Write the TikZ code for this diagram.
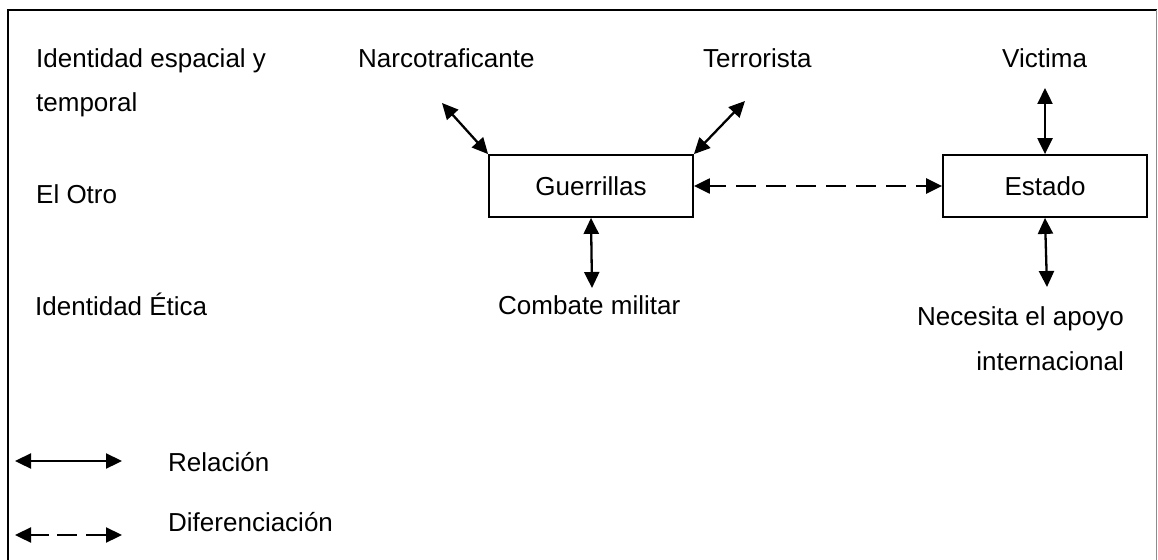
\documentclass[tikz,border=0pt]{standalone}
\usepackage{fontspec}
\setmainfont{Liberation Sans}
\usetikzlibrary{arrows.meta}

\tikzset{
  lbl/.style={inner sep=0pt, anchor=base west, font=\fontsize{26}{31}\selectfont},
  lblr/.style={lbl, anchor=base east},
  actor/.style={draw, line width=1.8pt, minimum width=204pt, minimum height=62pt,
                inner sep=0pt, font=\fontsize{26}{31}\selectfont},
  rel/.style={line width=2.3pt, {Triangle[length=16pt,width=15pt]}-{Triangle[length=16pt,width=15pt]}},
  dif/.style={rel, dash pattern=on 20pt off 10pt},
  frame/.style={line width=1.8pt},
}

\begin{document}
\begin{tikzpicture}[x=1pt, y=-1pt]
  \useasboundingbox (0,0) rectangle (1158,559);

  % outer frame (open at the bottom)
  \draw[frame] (8,575) -- (8,10) -- (1156.5,10);
  \draw[line width=1.2pt, black!45] (1156.5,10) -- (1156.5,575);

  % row labels on the left
  \node[lbl] (espacial) at (36,68) {Identidad espacial y};
  \node[lbl] (temporal) at (36,111) {temporal};
  \node[lbl] (otro)     at (36,203) {El Otro};
  \node[lbl] (etica)    at (35,315) {Identidad Ética};

  % the two actors
  \node[actor] (g) at (591,186) {Guerrillas};
  \node[actor] (e) at (1045,186) {Estado};

  % attributes
  \node[lbl]  (narco)   at (358,68)  {Narcotraficante};
  \node[lbl]  (terror)  at (703,68)  {Terrorista};
  \node[lbl]  (victima) at (1002,68) {Victima};
  \node[lbl]  (combate) at (498,314) {Combate militar};
  \node[lblr] (apoyo)   at (1124,325) {Necesita el apoyo};
  \node[lblr] (intl)    at (1124,370) {internacional};

  % free ends of the relation arrows
  \coordinate (narcoEnd)   at (442,103);
  \coordinate (terrorEnd)  at (745,101);
  \coordinate (combateEnd) at (592,288);
  \coordinate (victimaEnd) at (1045,88);
  \coordinate (apoyoEnd)   at (1047,287);

  \draw[rel] (narcoEnd) -- (g.north west);
  \draw[rel] (terrorEnd) -- (g.north east);
  \draw[rel] (g.south) -- (combateEnd);
  \draw[rel] (victimaEnd) -- (e.north);
  \draw[rel] (e.south) -- (apoyoEnd);

  % differentiation between the actors
  \draw[dif, dash pattern=on 17pt off 10pt on 20pt off 10pt on 20pt off 10pt on 20pt off 10pt
        on 20pt off 10pt on 20pt off 10pt on 20pt off 10pt on 40pt] (g.east) -- (e.west);

  % legend
  \coordinate (relA) at (15,461);
  \coordinate (relB) at (122,461);
  \coordinate (difA) at (15,535);
  \coordinate (difB) at (122,535);
  \draw[rel] (relA) -- (relB);
  \draw[dif, dash pattern=on 19pt off 8pt on 20pt off 9pt on 40pt] (difA) -- (difB);
  \node[lbl] (relacion) at (168,471) {Relación};
  \node[lbl] (diferen)  at (168,531) {Diferenciación};
\end{tikzpicture}
\end{document}
